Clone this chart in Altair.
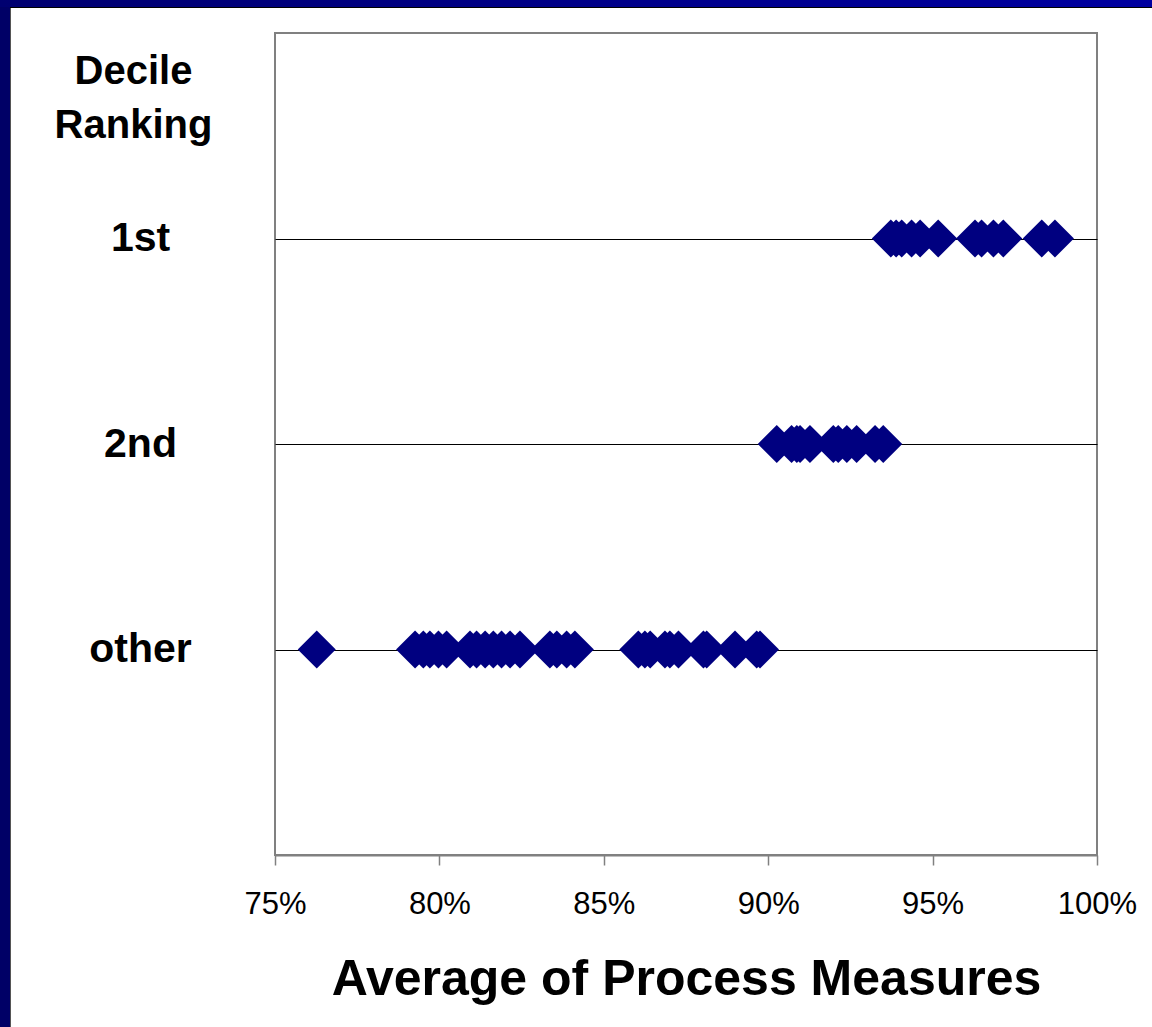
import altair as alt
import pandas as pd

# Average of process measures (%) for each hospital, grouped by decile ranking
first_decile = [93.73, 93.89, 94.06, 94.36, 94.62, 95.17, 96.29, 96.49, 96.85, 97.15, 98.32, 98.72]
second_decile = [90.26, 90.71, 90.87, 90.97, 91.27, 91.98, 92.13, 92.39, 92.69, 93.25, 93.50]
other_hospitals = [
    76.27,
    79.26, 79.51, 79.71, 79.97, 80.22,
    80.93, 81.13, 81.39, 81.64, 81.89, 82.15, 82.45,
    83.36, 83.57, 83.87, 84.12,
    86.05, 86.25, 86.41, 86.86, 87.01, 87.27, 88.03, 88.13, 88.99, 89.65, 89.75,
]

ranking_labels = ["1st", "2nd", "other"]
ranking_levels = [3, 2, 1]
x_ticks = [0.75, 0.80, 0.85, 0.90, 0.95, 1.00]

records = []
for name, level, values in zip(ranking_labels, ranking_levels,
                               [first_decile, second_decile, other_hospitals]):
    for v in values:
        records.append({"ranking": name, "level": level, "score": v / 100})
df = pd.DataFrame(records)

FONT = "Liberation Sans"
NAVY = "#000080"
FRAME_GRAY = "#808080"

label_expr = "datum.value == 3 ? '1st' : datum.value == 2 ? '2nd' : 'other'"

points = alt.Chart(df).mark_point(
    shape="diamond", filled=True, size=1444, color=NAVY, opacity=1
).encode(
    x=alt.X(
        "score:Q",
        scale=alt.Scale(domain=[0.75, 1.0], nice=False, zero=False),
        axis=alt.Axis(
            values=x_ticks, format=".0%", grid=False,
            domainColor=FRAME_GRAY, domainWidth=2,
            tickColor=FRAME_GRAY, tickWidth=1.5, tickSize=10,
            labelFont=FONT, labelFontSize=31, labelColor="black",
            labelBaseline="alphabetic", labelPadding=48,
            labelFlush=False, labelOverlap=False,
            title="Average of Process Measures",
            titleFont=FONT, titleFontSize=50, titleFontWeight="bold",
            titleColor="black", titleBaseline="alphabetic", titleY=139,
        ),
    ),
    y=alt.Y(
        "level:Q",
        scale=alt.Scale(domain=[0, 4], nice=False, zero=False),
        axis=alt.Axis(
            values=ranking_levels, labelExpr=label_expr,
            grid=True, gridColor="black", gridWidth=1, gridOpacity=1,
            domain=False, ticks=False, tickSize=0,
            labelFont=FONT, labelFontSize=41, labelFontWeight="bold",
            labelColor="black", labelAlign="center", labelBaseline="middle",
            labelPadding=135,
            title=["Decile", "Ranking"],
            titleFont=FONT, titleFontSize=40, titleFontWeight="bold",
            titleColor="black", titleAngle=0, titleAlign="center",
            titleBaseline="alphabetic", titleLineHeight=54,
            titleX=-142, titleY=50,
        ),
    ),
)

# Slide frame: dark band down the left edge and across the top
frame_df = pd.DataFrame({"part": ["frame"]})
left_band = alt.Chart(frame_df).mark_rect(color="#000066").encode(
    x=alt.value(-275), x2=alt.value(-265), y=alt.value(-33), y2=alt.value(994)
)
left_edge = alt.Chart(frame_df).mark_rule(color="#555555", strokeWidth=1).encode(
    x=alt.value(-264.5), y=alt.value(-26), y2=alt.value(994)
)
top_band = alt.Chart(frame_df).mark_rect(
    color=alt.Gradient(
        gradient="linear",
        stops=[alt.GradientStop(color="#000070", offset=0),
               alt.GradientStop(color="#0000a0", offset=1)],
        x1=0, x2=1, y1=0, y2=0,
    )
).encode(
    x=alt.value(-275), x2=alt.value(877), y=alt.value(-33), y2=alt.value(-26)
)
top_edge = alt.Chart(frame_df).mark_rule(color="black", strokeWidth=1).encode(
    x=alt.value(-265), x2=alt.value(877), y=alt.value(-25.5)
)

chart = alt.layer(points, left_band, left_edge, top_band, top_edge).properties(
    width=822,
    height=822,
    autosize=alt.AutoSizeParams(type="none"),
    padding={"left": 275, "top": 33, "right": 55, "bottom": 172},
    background="white",
).configure_view(
    stroke=FRAME_GRAY, strokeWidth=2
)

chart.save("out.html", embed_options={"renderer": "svg", "actions": False})
